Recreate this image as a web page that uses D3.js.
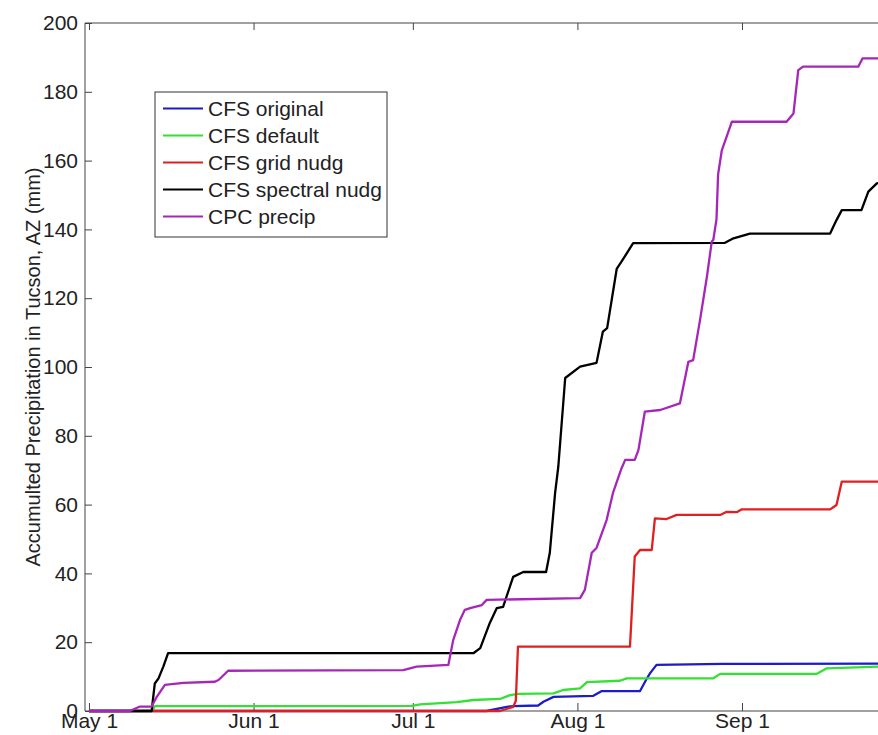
<!DOCTYPE html>
<html>
<head>
  <meta charset="utf-8">
  <title>Accumulated precipitation, Tucson</title>
  <script src="https://cdn.jsdelivr.net/npm/d3@7"></script>
  <style>
    body { margin: 0; background: #fff; }
    text { font-family: "Liberation Sans", Arial, sans-serif; font-size: 21px; fill: #222; }
    .frame { stroke: #444; stroke-width: 1; fill: none; }
    .series { fill: none; stroke-width: 2.3; stroke-linejoin: round; }
  </style>
</head>
<body>
<svg width="878" height="735"></svg>
<script>

// days since May 1, accumulated precip (mm)
var cfsOriginal = [[0,0],[74.9,0],[78.7,1.2],[79.9,1.4],[84.6,1.6],[85.6,2.7],[87.5,4.1],[95.0,4.4],[96.6,5.8],
  [103.8,5.8],[105.1,9.5],[105.7,11],[106.9,13.4],[119.4,13.7],[149.2,13.8]];

var cfsDefault = [[0,0],[11.9,0],[12.4,1.4],[60.8,1.5],[62.4,1.9],[69.3,2.6],[72.4,3.2],[77.4,3.5],[79.3,4.6],
  [80.9,5.0],[87.5,5.1],[89.3,6.1],[92.5,6.6],[93.8,8.4],[100.0,8.8],[101.3,9.5],[117.6,9.5],[118.9,10.8],
  [137.1,10.8],[139.0,12.4],[149.2,12.9]];

var cfsGrid = [[0,0],[77.4,0],[79.9,1.2],[80.4,3],[80.8,18.7],[101.9,18.7],[102.8,44.9],[103.8,46.8],[106.0,46.8],
  [106.6,56],[108.8,55.8],[110.7,57],[118.9,57],[120.1,57.9],[122.0,57.8],[122.9,58.6],[139.6,58.6],
  [140.8,59.9],[141.8,66.7],[149.2,66.7]];

var cfsSpectral = [[0,0],[11.8,0],[12.4,8],[13.1,9.5],[14.0,12.9],[14.9,16.8],[72.4,16.8],[73.7,18.3],[75.5,25.6],
  [76.8,29.9],[78.0,30.3],[79.9,39],[81.8,40.4],[86.1,40.4],[86.8,46],[87.8,63.4],[88.4,71],[89.7,96.8],
  [92.5,100.1],[95.6,101.2],[96.8,110.3],[97.6,111.3],[99.4,128.5],[100.3,130.6],[102.5,136],[119.8,136.1],
  [121.4,137.4],[124.5,138.8],[139.6,138.8],[140.8,142.7],[141.8,145.6],[145.5,145.6],[146.8,151],
  [148.4,153.4],[149.2,153.6]];

var cpcPrecip = [[0,0],[7.7,0],[9.6,1.3],[11.8,1.3],[12.8,4.2],[14.3,7.6],[17.8,8.2],[23.7,8.5],[24.4,9],
  [26.2,11.7],[59.2,11.9],[61.7,12.9],[67.7,13.4],[68.6,20.6],[69.9,26.5],[70.8,29.4],[71.8,29.9],[74.0,30.8],
  [74.9,32.3],[92.5,32.8],[93.4,35.2],[94.7,46],[95.6,47.4],[97.5,55.5],[98.7,63.4],[100.3,70.5],[101.0,73],
  [102.8,73],[103.5,75.9],[104.7,87],[107.6,87.5],[111.3,89.4],[112.9,101.5],[113.8,102],[115.1,113.7],
  [116.4,126.3],[117.3,136.4],[117.6,137],[118.2,143],[118.5,156],[119.2,163],[121.1,171.3],[131.4,171.3],
  [132.7,173.7],[133.6,186.3],[134.5,187.3],[144.9,187.3],[145.7,189.7],[149.2,189.7]];

var seriesNames = ["CFS original", "CFS default", "CFS grid nudg", "CFS spectral nudg", "CPC precip"];
var seriesColors = ["#1c1cc8", "#33e033", "#e02020", "#000000", "#a626b8"];
var seriesData = [cfsOriginal, cfsDefault, cfsGrid, cfsSpectral, cpcPrecip];

var monthDays = [0, 31, 61, 92, 123];
var monthLabels = ["May 1", "Jun 1", "Jul 1", "Aug 1", "Sep 1"];
var yTicks = [0, 20, 40, 60, 80, 100, 120, 140, 160, 180, 200];

(function() {
  var svg = d3.select("svg");
  var left = 85, plotTop = 23, bottom = 711;

  var x = d3.scaleLinear().domain([-0.75, 153.5]).range([left, left + 154.25 * 5.309]);
  var y = d3.scaleLinear().domain([0, 200]).range([bottom, plotTop]);

  // frame (right side falls outside the picture)
  svg.append("path").attr("class", "frame")
      .attr("d", "M" + x(153.5) + "," + plotTop + "H" + left + "V" + bottom + "H" + x(153.5));

  // y axis
  var yAxis = svg.append("g").attr("transform", "translate(" + left + ",0)")
      .call(d3.axisLeft(y).tickValues(yTicks).tickSize(-7).tickPadding(7));
  yAxis.select(".domain").remove();
  yAxis.attr("font-size", null).attr("font-family", null);
  yAxis.selectAll("line").attr("stroke", "#444");
  yAxis.selectAll("text").attr("fill", "#222");

  // x axis bottom and top
  var xAxis = svg.append("g").attr("transform", "translate(0," + bottom + ")")
      .call(d3.axisBottom(x).tickValues(monthDays).tickSize(-8).tickPadding(2)
        .tickFormat(function(d, i) { return monthLabels[i]; }));
  xAxis.select(".domain").remove();
  xAxis.attr("font-size", null).attr("font-family", null);
  xAxis.selectAll("line").attr("stroke", "#444");
  xAxis.selectAll("text").attr("fill", "#222").attr("dy", "0.72em");

  var xTop = svg.append("g").attr("transform", "translate(0," + plotTop + ")")
      .call(d3.axisTop(x).tickValues(monthDays).tickSize(-7).tickFormat(""));
  xTop.select(".domain").remove();
  xTop.selectAll("line").attr("stroke", "#444");

  // y label
  svg.append("text")
      .attr("transform", "translate(33," + ((plotTop + bottom) / 2) + ") rotate(-90)")
      .attr("text-anchor", "middle")
      .attr("dy", "0.35em")
      .style("font-size", "20px")
      .text("Accumulted Precipitation in Tucson, AZ (mm)");

  // series
  var line = d3.line()
      .x(function(d) { return x(d[0]); })
      .y(function(d) { return y(d[1]); });

  svg.append("g").selectAll("path")
      .data(seriesData)
      .enter().append("path")
      .attr("class", "series")
      .attr("stroke", function(d, i) { return seriesColors[i]; })
      .attr("d", line);

  // legend
  var legend = svg.append("g").attr("transform", "translate(155,92)");
  legend.append("rect").attr("width", 232).attr("height", 145)
      .attr("fill", "#fff").attr("stroke", "#333").attr("stroke-width", 1);

  var item = legend.selectAll(".item")
      .data(seriesNames)
      .enter().append("g")
      .attr("transform", function(d, i) { return "translate(0," + (16.5 + i * 27) + ")"; });

  item.append("line")
      .attr("x1", 8).attr("x2", 48)
      .attr("stroke", function(d, i) { return seriesColors[i]; })
      .attr("stroke-width", 2);

  item.append("text")
      .attr("x", 53).attr("dy", "0.35em")
      .text(function(d) { return d; });
})();

</script>
</body>
</html>
